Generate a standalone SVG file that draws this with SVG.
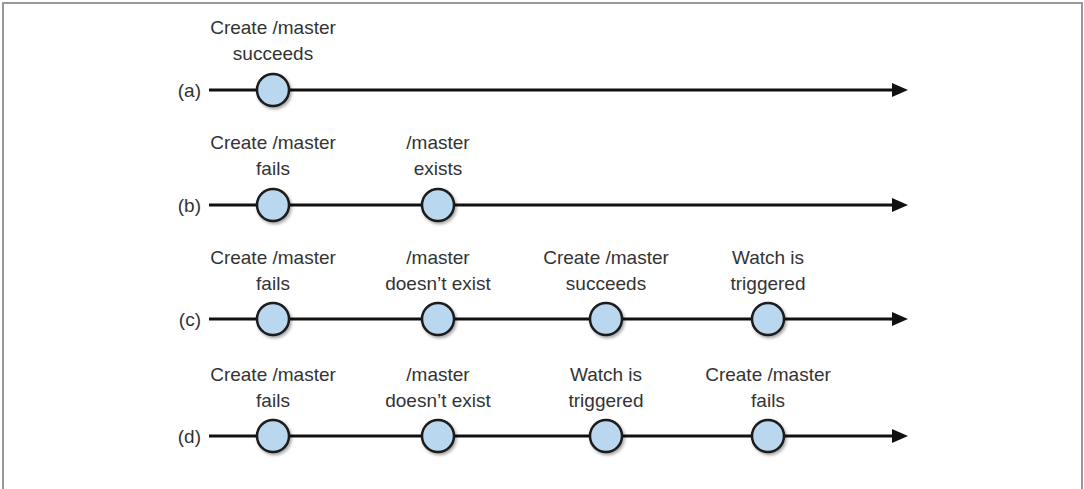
<svg xmlns="http://www.w3.org/2000/svg" width="1084" height="489" viewBox="0 0 1084 489">
<defs>
<style>
.t{font-family:"Liberation Sans Narrow","Liberation Sans",Arial,sans-serif;font-size:19px;fill:#333;text-anchor:middle}
.lab{font-family:"Liberation Sans Narrow","Liberation Sans",Arial,sans-serif;font-size:19px;fill:#333;text-anchor:end}
.ln{stroke:#111;stroke-width:3;fill:none}
.n{fill:#b9d8ef;stroke:#1a1a1a;stroke-width:2.5;filter:url(#sh)}
</style>
<filter id="sh" x="-50%" y="-50%" width="200%" height="200%">
<feDropShadow dx="1.5" dy="2" stdDeviation="1.5" flood-color="#000" flood-opacity="0.35"/>
</filter>
<marker id="ah" markerWidth="16" markerHeight="14" refX="1" refY="7" orient="auto" markerUnits="userSpaceOnUse">
<path d="M0,0 L16,7 L0,14 z" fill="#111"/>
</marker>
</defs>
<rect x="0" y="0" width="1084" height="489" fill="#fff"/>
<path d="M3,489 V3 H1082 V489" fill="none" stroke="#999" stroke-width="2"/>
<g id="connectors">
<line class="ln" x1="209" y1="90" x2="893" y2="90" marker-end="url(#ah)"/>
<line class="ln" x1="209" y1="205" x2="893" y2="205" marker-end="url(#ah)"/>
<line class="ln" x1="209" y1="319" x2="893" y2="319" marker-end="url(#ah)"/>
<line class="ln" x1="209" y1="436" x2="893" y2="436" marker-end="url(#ah)"/>
</g>
<g id="row-a">
<text class="lab" x="201" y="97">(a)</text>
<g id="a1"><circle class="n" cx="273" cy="90" r="16"/><text class="t" x="273" y="34">Create /master</text><text class="t" x="273" y="60">succeeds</text></g>
</g>
<g id="row-b">
<text class="lab" x="201" y="212">(b)</text>
<g id="b1"><circle class="n" cx="273" cy="205" r="16"/><text class="t" x="273" y="149">Create /master</text><text class="t" x="273" y="175">fails</text></g>
<g id="b2"><circle class="n" cx="438" cy="205" r="16"/><text class="t" x="438" y="149">/master</text><text class="t" x="438" y="175">exists</text></g>
</g>
<g id="row-c">
<text class="lab" x="201" y="326">(c)</text>
<g id="c1"><circle class="n" cx="273" cy="319" r="16"/><text class="t" x="273" y="264">Create /master</text><text class="t" x="273" y="290">fails</text></g>
<g id="c2"><circle class="n" cx="438" cy="319" r="16"/><text class="t" x="438" y="264">/master</text><text class="t" x="438" y="290">doesn’t exist</text></g>
<g id="c3"><circle class="n" cx="606" cy="319" r="16"/><text class="t" x="606" y="264">Create /master</text><text class="t" x="606" y="290">succeeds</text></g>
<g id="c4"><circle class="n" cx="768" cy="319" r="16"/><text class="t" x="768" y="264">Watch is</text><text class="t" x="768" y="290">triggered</text></g>
</g>
<g id="row-d">
<text class="lab" x="201" y="443">(d)</text>
<g id="d1"><circle class="n" cx="273" cy="436" r="16"/><text class="t" x="273" y="381">Create /master</text><text class="t" x="273" y="407">fails</text></g>
<g id="d2"><circle class="n" cx="438" cy="436" r="16"/><text class="t" x="438" y="381">/master</text><text class="t" x="438" y="407">doesn’t exist</text></g>
<g id="d3"><circle class="n" cx="606" cy="436" r="16"/><text class="t" x="606" y="381">Watch is</text><text class="t" x="606" y="407">triggered</text></g>
<g id="d4"><circle class="n" cx="768" cy="436" r="16"/><text class="t" x="768" y="381">Create /master</text><text class="t" x="768" y="407">fails</text></g>
</g>
</svg>
